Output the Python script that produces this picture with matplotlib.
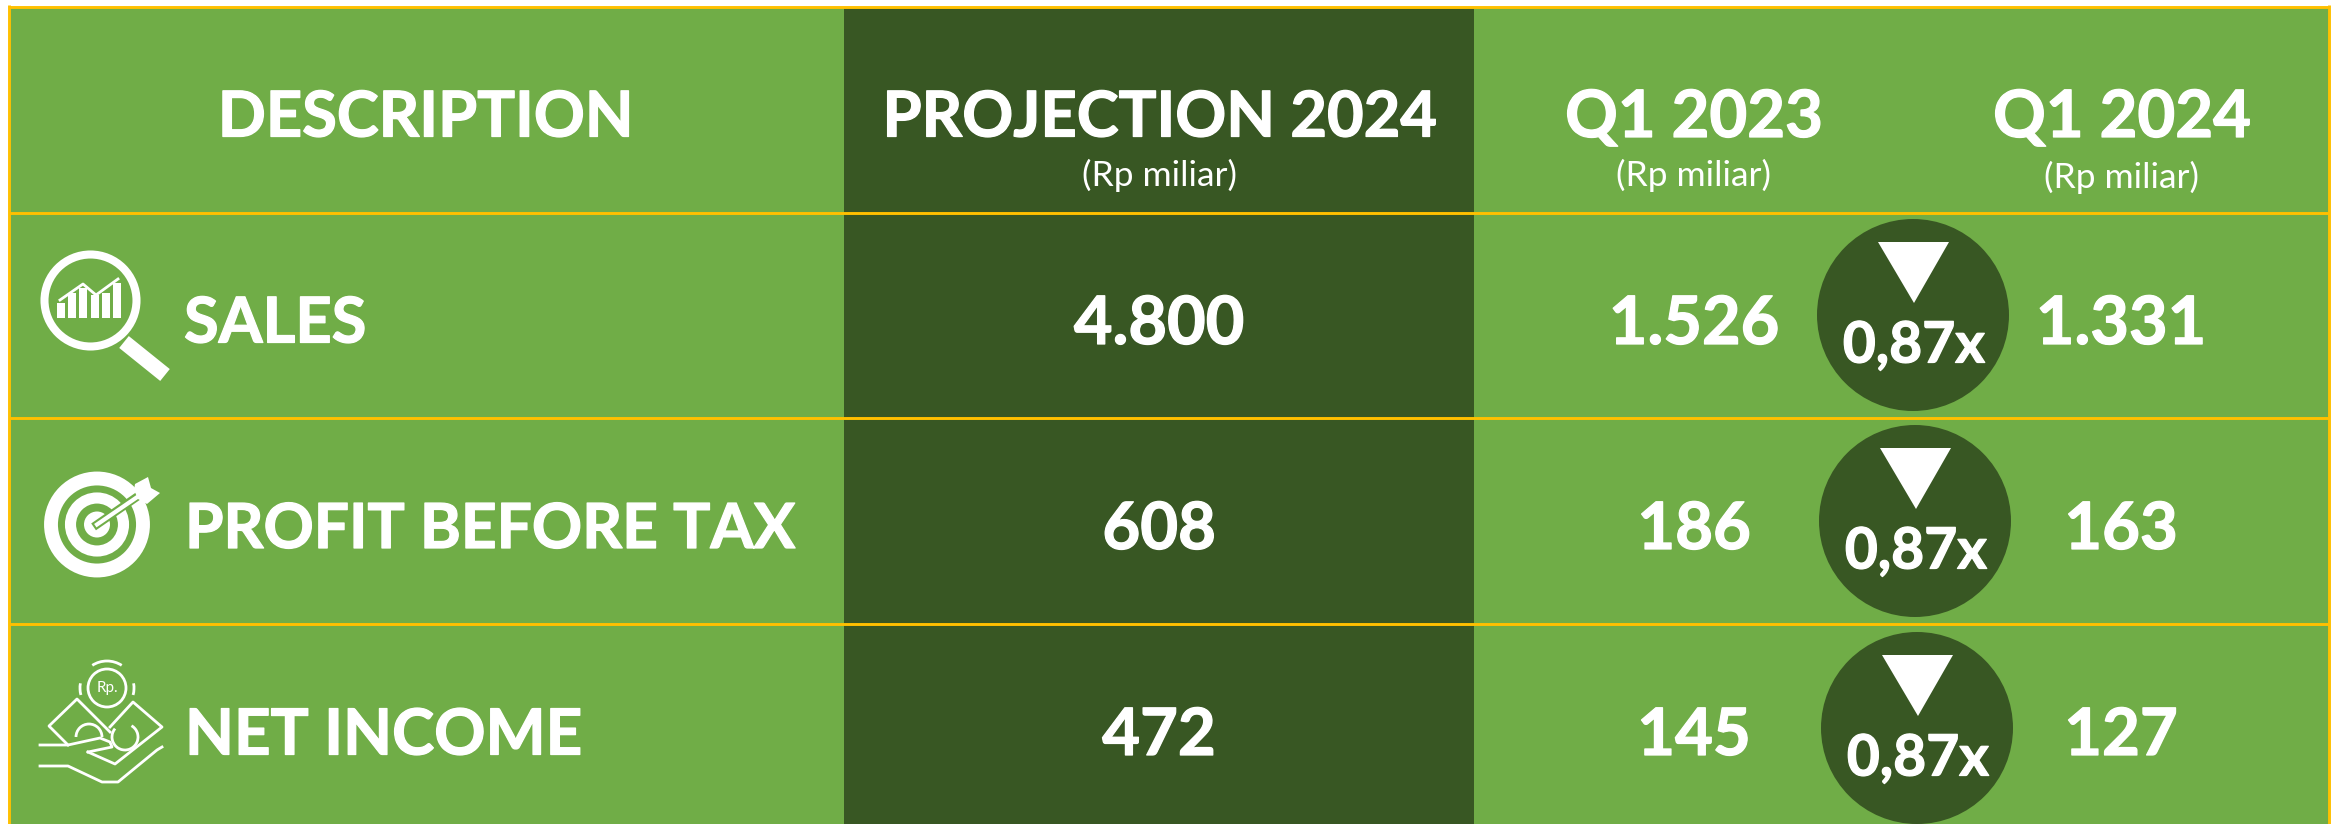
import matplotlib
matplotlib.use('Agg')
import matplotlib.pyplot as plt
import matplotlib.patheffects as pe
from matplotlib.patches import Rectangle, Circle, Polygon, Arc

plt.rcParams['font.family'] = ['Lato', 'DejaVu Sans']

GREEN = '#70ad47'
DARK = '#385723'
GOLD = '#ffc000'

headers = ['DESCRIPTION', 'PROJECTION 2024', 'Q1 2023', 'Q1 2024']
unit = '(Rp miliar)'
rows = ['SALES', 'PROFIT BEFORE TAX', 'NET INCOME']
projection = ['4.800', '608', '472']
q1_2023 = ['1.526', '186', '145']
q1_2024 = ['1.331', '163', '127']
ratio = ['0,87x', '0,87x', '0,87x']

W, H = 2341, 824
fig = plt.figure(figsize=(W / 100, H / 100), dpi=100)
ax = fig.add_axes([0, 0, 1, 1])
ax.set_xlim(0, W)
ax.set_ylim(H, 0)
ax.axis('off')

LEFT, RIGHT = 8.5, 2328.5

# table background
ax.add_patch(Rectangle((LEFT, 6.5), RIGHT - LEFT, H, fc=GREEN, ec='none', zorder=0))
ax.add_patch(Rectangle((844, 6.5), 629.5, H, fc=DARK, ec='none', zorder=1))

# gold rules
for y in [6.5, 212.5, 417.5, 623.5]:
    ax.plot([LEFT, RIGHT], [y, y], color=GOLD, lw=2.1, zorder=2, solid_capstyle='butt')
for x in [LEFT, RIGHT]:
    ax.plot([x, x], [5, H], color=GOLD, lw=2.1, zorder=2, solid_capstyle='butt')


def txt(x, y, s, size, bold=True, ha='center'):
    t = ax.text(x, y, s, fontsize=size, color='white', ha=ha, va='center_baseline',
                fontweight='bold' if bold else 'normal', zorder=6)
    if bold:
        # Lato bold is a bit lighter than the original face
        t.set_path_effects([pe.withStroke(linewidth=0.9, foreground='white')])


# header
hx = [426, 1160, 1694, 2122]
hsize = [45.5, 45.5, 47, 47]
for x, s, size in zip(hx, headers, hsize):
    txt(x, 113, s, size)
for x, y in [(1160, 172), (1694, 172), (2122, 174)]:
    txt(x, y, unit, 25.5, bold=False)

# rows
row_y = [319, 525, 731]
label_x = [184, 185, 185]
label_size = [45.5, 44.8, 45.8]
for i, y in enumerate(row_y):
    txt(label_x[i], y, rows[i], label_size[i], ha='left')
    txt(1159, y, projection[i], 48 if i == 0 else 47)
    txt(1694, y, q1_2023[i], 48 if i == 0 else 47)
    txt(2121, y, q1_2024[i], 48 if i == 0 else 47)

# ratio badges
badge_x = [1913, 1915, 1917]
badge_y = [315, 521, 728]
for bx, by, r in zip(badge_x, badge_y, ratio):
    ax.add_patch(Circle((bx, by), 96, fc=DARK, ec='none', zorder=3))
    ax.add_patch(Polygon([(bx - 35, by - 73), (bx + 36, by - 73), (bx + 1, by - 12)],
                         fc='white', ec='none', zorder=4))
    txt(bx + 1, by + 26, r, 41)

# sales icon: magnifier over a small bar chart
ax.add_patch(Circle((90.5, 300.5), 46, fc='none', ec='white', lw=5.8, zorder=4))
ax.plot([124, 165], [342, 375], color='white', lw=11, zorder=4, solid_capstyle='butt')
for bar_x, top in zip([57, 68, 79, 91, 102, 113], [303, 293, 288, 295, 293, 283]):
    ax.add_patch(Rectangle((bar_x, top), 8, 318 - top, fc='white', ec='none', zorder=4))
ax.plot([60, 83, 96, 118], [300, 284, 295, 279], color='white', lw=2, zorder=4)

# profit icon: target with arrow
tx, ty = 97, 524.5
ax.add_patch(Circle((tx, ty), 46, fc='none', ec='white', lw=10, zorder=4))
ax.add_patch(Circle((tx, ty), 26.5, fc='none', ec='white', lw=8, zorder=4))
ax.add_patch(Circle((tx, ty), 13, fc='white', ec='none', zorder=4))
ax.plot([tx, 136], [ty, ty - 27], color=GREEN, lw=6, zorder=5)
ax.plot([tx, 138], [ty, ty - 28], color='white', lw=3, zorder=5)
ax.add_patch(Polygon([(134, 490), (135, 484), (148, 477), (151, 488), (160, 493), (147, 504), (138, 499)],
                     fc='white', ec='none', zorder=5))

# net income icon: hand holding notes and a coin
ICON_LW = 2
ax.add_patch(Circle((107, 688), 19, fc='none', ec='white', lw=ICON_LW, zorder=4))
ax.text(107, 688, 'Rp.', fontsize=11, color='white', ha='center', va='center', zorder=4)
ax.add_patch(Arc((107, 688), 54, 54, theta1=237, theta2=303, ec='white', lw=ICON_LW, zorder=4))
ax.add_patch(Arc((107, 688), 54, 54, theta1=165, theta2=190, ec='white', lw=ICON_LW, zorder=4))
ax.add_patch(Arc((107, 688), 54, 54, theta1=-10, theta2=15, ec='white', lw=ICON_LW, zorder=4))
ax.plot([110, 77, 49, 68], [732, 699, 726, 745], color='white', lw=ICON_LW, zorder=4)
ax.plot([110, 133, 162, 115, 88], [727, 702, 727, 764, 752], color='white', lw=ICON_LW, zorder=4)
ax.add_patch(Arc((89, 737), 26, 26, theta1=180, theta2=360, ec='white', lw=ICON_LW, zorder=4))
ax.add_patch(Arc((125, 737), 26, 26, theta1=-60, theta2=220, ec='white', lw=ICON_LW, zorder=4))
ax.plot([40, 68, 100, 110, 112, 88], [745, 745, 738, 742, 747, 752], color='white', lw=ICON_LW, zorder=4)
ax.plot([40, 68, 102, 118, 157, 162], [766, 766, 782, 782, 750, 747], color='white', lw=ICON_LW, zorder=4)

fig.savefig('out.png', dpi=100, facecolor='white')
